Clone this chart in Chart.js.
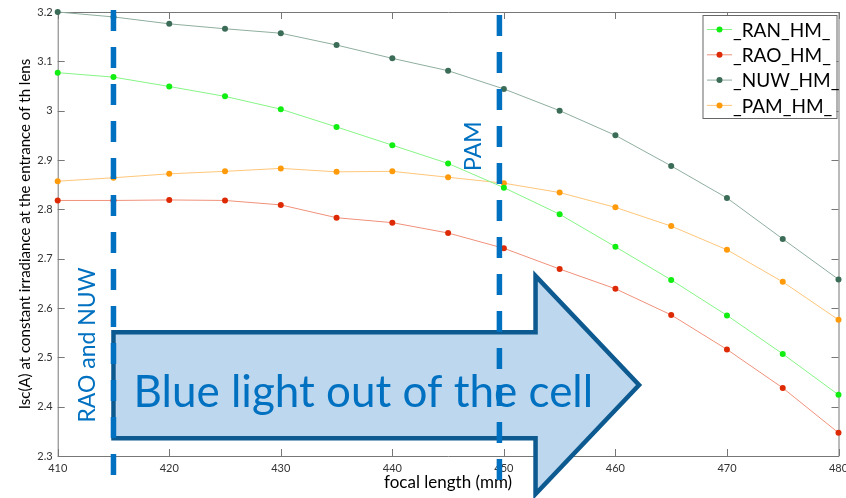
<!DOCTYPE html>
<html>
<head>
<meta charset="utf-8">
<script src="https://cdn.jsdelivr.net/npm/chart.js@4"></script>
<style>
  html, body { margin: 0; padding: 0; background: #fff; }
</style>
</head>
<body>
<canvas id="myChart" width="846" height="498"></canvas>
<script>
// focal length sweep (nm) and short-circuit current per cell type
const focalLength = [410, 415, 420, 425, 430, 435, 440, 445, 450, 455, 460, 465, 470, 475, 480];
const ranHM = [3.077, 3.068, 3.049, 3.029, 3.003, 2.967, 2.930, 2.893, 2.844, 2.790, 2.724, 2.657, 2.585, 2.507, 2.424];
const raoHM = [2.818, 2.818, 2.819, 2.818, 2.809, 2.783, 2.773, 2.752, 2.721, 2.679, 2.639, 2.586, 2.516, 2.438, 2.347];
const nuwHM = [3.200, 3.190, 3.176, 3.166, 3.157, 3.133, 3.106, 3.081, 3.044, 3.000, 2.950, 2.888, 2.823, 2.740, 2.658];
const pamHM = [2.857, 2.864, 2.872, 2.877, 2.883, 2.876, 2.877, 2.865, 2.853, 2.834, 2.804, 2.766, 2.718, 2.653, 2.576];

const seriesNames = ['_RAN_HM_', '_RAO_HM_', '_NUW_HM_', '_PAM_HM_'];
const seriesValues = [ranHM, raoHM, nuwHM, pamHM];
const markerColors = ['#11ee11', '#dd2a05', '#3b6c57', '#ff9a0a'];
const lineColors = ['#86f586', '#f0917a', '#8fae9f', '#ffc67a'];

// markers on the plot, in axis units
const cutoffRaoNuw = 415;
const cutoffPam = 449.6;

const blue = '#0070c0';
const uiFont = 'Lato, "Open Sans", sans-serif';

function pts(values) {
  return focalLength.map((x, i) => ({ x: x, y: values[i] }));
}

// frame with inward ticks on all four sides
const boxTicks = {
  id: 'boxTicks',
  beforeDatasetsDraw(chart) {
    const { ctx, chartArea: a, scales: { x, y } } = chart;
    const len = 7;
    ctx.save();
    ctx.strokeStyle = '#777';
    ctx.lineWidth = 1;
    ctx.beginPath();
    ctx.rect(a.left + 0.5, a.top + 0.5, a.right - a.left, a.bottom - a.top);
    x.ticks.forEach(t => {
      const px = Math.round(x.getPixelForValue(t.value)) + 0.5;
      ctx.moveTo(px, a.bottom); ctx.lineTo(px, a.bottom - len);
      ctx.moveTo(px, a.top); ctx.lineTo(px, a.top + len);
    });
    y.ticks.forEach(t => {
      const py = Math.round(y.getPixelForValue(t.value)) + 0.5;
      ctx.moveTo(a.left, py); ctx.lineTo(a.left + len, py);
      ctx.moveTo(a.right, py); ctx.lineTo(a.right - len, py);
    });
    ctx.stroke();
    ctx.restore();
  }
};

// arrow, cutoff lines and their labels
const overlay = {
  id: 'overlay',
  afterDatasetsDraw(chart) {
    const { ctx, scales: { x, y } } = chart;
    const X = v => x.getPixelForValue(v);
    const Y = v => y.getPixelForValue(v);
    ctx.save();

    // big arrow
    ctx.beginPath();
    ctx.moveTo(X(415), Y(2.551));
    ctx.lineTo(X(452.84), Y(2.551));
    ctx.lineTo(X(452.84), Y(2.665));
    ctx.lineTo(X(462.12), Y(2.444));
    ctx.lineTo(X(452.84), Y(2.223));
    ctx.lineTo(X(452.84), Y(2.336));
    ctx.lineTo(X(415), Y(2.336));
    ctx.closePath();
    ctx.fillStyle = '#bdd7ee';
    ctx.fill();
    ctx.lineWidth = 4.5;
    ctx.lineJoin = 'miter';
    ctx.strokeStyle = '#0d5a90';
    ctx.stroke();

    ctx.fillStyle = blue;
    ctx.font = '44px ' + uiFont;
    ctx.textAlign = 'center';
    ctx.textBaseline = 'alphabetic';
    ctx.fillText('Blue light out of the cell', X(437.4), Y(2.40));

    // dashed cutoff lines
    ctx.strokeStyle = blue;
    ctx.lineWidth = 5.5;
    ctx.setLineDash([21, 16]);
    ctx.beginPath();
    ctx.moveTo(X(cutoffRaoNuw), Y(3.204));
    ctx.lineTo(X(cutoffRaoNuw), Y(2.231));
    ctx.moveTo(X(cutoffPam), Y(3.194));
    ctx.lineTo(X(cutoffPam), Y(2.231));
    ctx.stroke();
    ctx.setLineDash([]);

    // rotated labels
    ctx.font = '23px ' + uiFont;
    ctx.textBaseline = 'middle';
    [['RAO and NUW', 412.7, 2.525], ['PAM', 447.3, 2.928]].forEach(([txt, vx, vy]) => {
      ctx.save();
      ctx.translate(X(vx), Y(vy));
      ctx.rotate(-Math.PI / 2);
      ctx.fillText(txt, 0, 0);
      ctx.restore();
    });
    ctx.restore();
  },
  afterDraw(chart) {
    // boxed legend in the upper right corner
    const { ctx, chartArea: a } = chart;
    const w = 134, h = 103;
    const left = a.right - 2 - w, top = a.top + 3;
    ctx.save();
    ctx.fillStyle = '#fff';
    ctx.fillRect(left, top, w, h);
    ctx.strokeStyle = '#666';
    ctx.lineWidth = 1;
    ctx.strokeRect(left + 0.5, top + 0.5, w, h);
    ctx.font = '19px ' + uiFont;
    ctx.textAlign = 'left';
    ctx.textBaseline = 'middle';
    chart.data.datasets.forEach((ds, i) => {
      const cy = top + 14.5 + i * 25.3;
      ctx.strokeStyle = ds.borderColor;
      ctx.beginPath();
      ctx.moveTo(left + 4.5, cy);
      ctx.lineTo(left + 29.5, cy);
      ctx.stroke();
      ctx.fillStyle = ds.pointBackgroundColor;
      ctx.beginPath();
      ctx.arc(left + 17, cy, 3, 0, Math.PI * 2);
      ctx.fill();
      ctx.fillStyle = '#000';
      ctx.fillText(ds.label, left + 30.5, cy + 1);
    });
    ctx.restore();
  }
};

const ctx = document.getElementById('myChart').getContext('2d');
new Chart(ctx, {
  type: 'line',
  data: {
    datasets: seriesNames.map((name, i) => ({
      label: name,
      data: pts(seriesValues[i]),
      borderColor: lineColors[i],
      borderWidth: 1,
      pointBackgroundColor: markerColors[i],
      pointBorderWidth: 0,
      pointRadius: 3,
      tension: 0,
      clip: false
    }))
  },
  options: {
    responsive: false,
    animation: false,
    devicePixelRatio: 1,
    layout: { padding: { top: 12, right: 7.5, left: 0, bottom: 0 } },
    plugins: {
      legend: { display: false },
      tooltip: { enabled: false }
    },
    scales: {
      x: {
        type: 'linear',
        min: 410,
        max: 480,
        grid: { display: false, drawTicks: false },
        border: { display: false },
        ticks: {
          stepSize: 10,
          padding: 6,
          color: '#333',
          font: { size: 11, family: uiFont }
        },
        title: {
          display: true,
          text: 'focal length (mm)',
          color: '#000',
          font: { size: 17, family: uiFont },
          padding: { top: 0, bottom: 5 }
        },
        afterFit(scale) {
          scale.height = 42;
          scale.paddingLeft = 0;
          scale.paddingRight = 0;
        }
      },
      y: {
        min: 2.3,
        max: 3.2,
        grid: { display: false, drawTicks: false },
        border: { display: false },
        ticks: {
          stepSize: 0.1,
          padding: 5,
          color: '#333',
          font: { size: 11, family: uiFont },
          callback: v => String(+v.toFixed(1))
        },
        title: {
          display: true,
          text: 'Isc(A) at constant irradiance at the entrance of th lens',
          color: '#000',
          font: { size: 15, family: uiFont },
          padding: { top: 16, bottom: 0 }
        },
        afterFit(scale) {
          scale.width = 57.7;
          scale.paddingTop = 0;
          scale.paddingBottom = 0;
        }
      }
    }
  },
  plugins: [boxTicks, overlay]
});
</script>
</body>
</html>
